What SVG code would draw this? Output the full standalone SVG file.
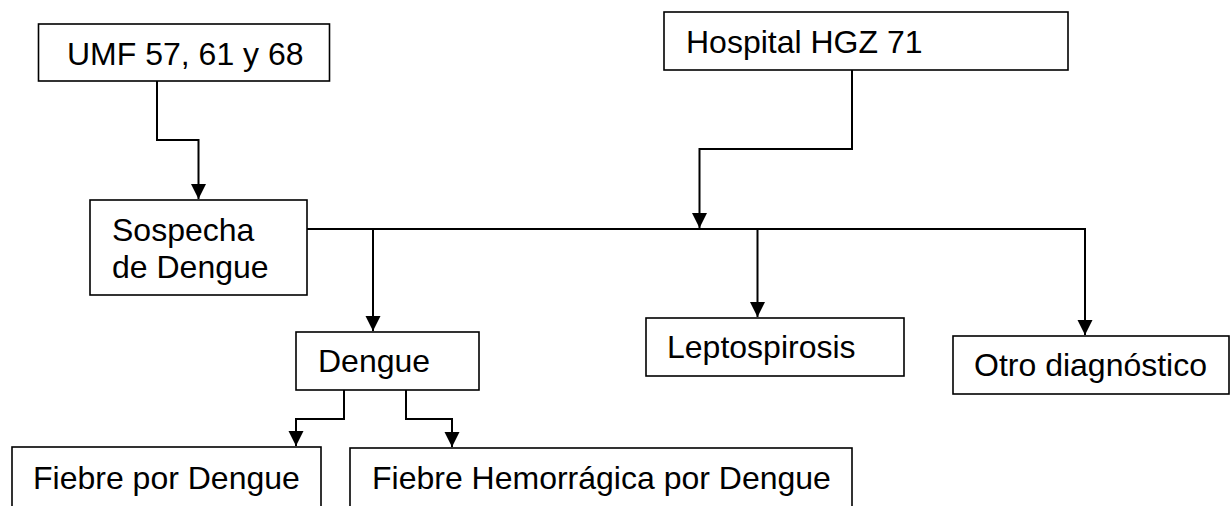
<svg xmlns="http://www.w3.org/2000/svg" width="1232" height="506" viewBox="0 0 1232 506">
<style>
.box{fill:#fff;stroke:#000;stroke-width:1.6}
.lbl{font-family:"Liberation Sans",Arial,sans-serif;font-size:32px;fill:#000}
.con{fill:none;stroke:#000;stroke-width:2}
</style>
<defs>
<marker id="arr" markerUnits="userSpaceOnUse" markerWidth="16" markerHeight="16" refX="15" refY="7.5" orient="auto">
<path d="M0,0 L15,7.5 L0,15 z" fill="#000"/>
</marker>
</defs>
<rect width="1232" height="506" fill="#fff"/>
<g id="connectors">
<path class="con" d="M157,81 V140 H198.5 V199" marker-end="url(#arr)"/>
<path class="con" d="M852,70 V149 H699.5 V228" marker-end="url(#arr)"/>
<path class="con" d="M307,229 H1085 V335" marker-end="url(#arr)"/>
<path class="con" d="M373,229 V331" marker-end="url(#arr)"/>
<path class="con" d="M757.5,229 V317" marker-end="url(#arr)"/>
<path class="con" d="M344,390 V419 H296 V446" marker-end="url(#arr)"/>
<path class="con" d="M406,390 V419 H452 V447" marker-end="url(#arr)"/>
</g>
<g id="umf">
<rect class="box" x="38.5" y="24" width="291" height="57"/>
<text class="lbl" x="67" y="65">UMF 57, 61 y 68</text>
</g>
<g id="hospital">
<rect class="box" x="664" y="12" width="404" height="58"/>
<text class="lbl" x="686" y="53">Hospital HGZ 71</text>
</g>
<g id="sospecha">
<rect class="box" x="90" y="200" width="217" height="95"/>
<text class="lbl" x="112" y="241">Sospecha</text>
<text class="lbl" x="112" y="278">de Dengue</text>
</g>
<g id="dengue">
<rect class="box" x="296" y="332" width="183" height="58"/>
<text class="lbl" x="318" y="372">Dengue</text>
</g>
<g id="leptospirosis">
<rect class="box" x="646" y="318" width="258" height="58"/>
<text class="lbl" x="667" y="358">Leptospirosis</text>
</g>
<g id="otro">
<rect class="box" x="953" y="336" width="276" height="58"/>
<text class="lbl" x="974" y="376">Otro diagnóstico</text>
</g>
<g id="fiebre-dengue">
<rect class="box" x="12" y="447" width="309" height="80"/>
<text class="lbl" x="33" y="489">Fiebre por Dengue</text>
</g>
<g id="fiebre-hemorragica">
<rect class="box" x="350" y="448" width="502" height="80"/>
<text class="lbl" x="372" y="489">Fiebre Hemorrágica por Dengue</text>
</g>
</svg>
